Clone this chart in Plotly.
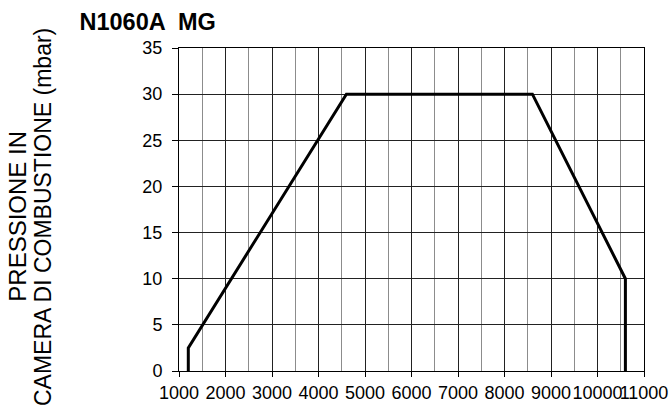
import plotly.graph_objects as go

# Data
portata = [1200, 1200, 4600, 8600, 10600, 10600]   # x values
pressione = [0, 2.5, 30, 30, 10, 0]                 # y values (mbar)
x_ticks = [1000, 2000, 3000, 4000, 5000, 6000, 7000, 8000, 9000, 10000, 11000]
y_ticks = [0, 5, 10, 15, 20, 25, 30, 35]

W, H = 671, 412
L, R, T, B = 179, 27, 48, 41
PW, PH = W - L - R, H - T - B

fig = go.Figure()
fig.add_trace(go.Scatter(x=portata, y=pressione, mode="lines",
                         line=dict(color="black", width=3), showlegend=False))

font = "Liberation Sans, Arial, sans-serif"
fig.update_layout(
    width=W, height=H,
    margin=dict(l=L, r=R, t=T, b=B, autoexpand=False),
    paper_bgcolor="white", plot_bgcolor="white",
    font=dict(family=font, size=18, color="black"),
    title=dict(text="<b>N1060A  MG</b>", x=79.5/W, xanchor="left", xref="container",
               y=1-21.7/H, yanchor="middle", yref="container",
               font=dict(family=font, size=23.5, color="black")),
    annotations=[
        dict(text="PRESSIONE IN", textangle=-90, xref="paper", yref="paper",
             x=(18-L)/PW, y=(PH + T - 216.7)/PH, xanchor="center", yanchor="middle",
             showarrow=False, font=dict(family=font, size=24, color="black")),
        dict(text="CAMERA DI COMBUSTIONE (mbar)", textangle=-90, xref="paper", yref="paper",
             x=(43-L)/PW, y=(PH + T - 217)/PH, xanchor="center", yanchor="middle",
             showarrow=False, font=dict(family=font, size=23, color="black")),
    ],
)
fig.update_xaxes(range=[1000, 11000], tickmode="array", tickvals=x_ticks, automargin=False,
                 ticktext=[str(v) for v in x_ticks], tickangle=0, ticklabeloverflow="allow",
                 showgrid=True, gridcolor="#222222", gridwidth=1,
                 minor=dict(dtick=500, tick0=1000, showgrid=True, gridcolor="#8c8c8c", gridwidth=1),
                 showline=True, linecolor="black", linewidth=1, mirror=True,
                 ticks="outside", ticklen=5, tickcolor="black",
                 zeroline=False, tickfont=dict(size=18))
fig.update_yaxes(range=[0, 35], tickmode="array", tickvals=y_ticks, automargin=False,
                 showgrid=True, gridcolor="#222222", gridwidth=1,
                 showline=True, linecolor="black", linewidth=1, mirror=True,
                 ticks="outside", ticklen=6, tickcolor="black", ticklabelstandoff=6,
                 zeroline=False, tickfont=dict(size=18))

fig.write_html("out.html", config={"displayModeBar": False},
               post_script="document.body.style.margin='0px';document.body.style.overflow='hidden';")
